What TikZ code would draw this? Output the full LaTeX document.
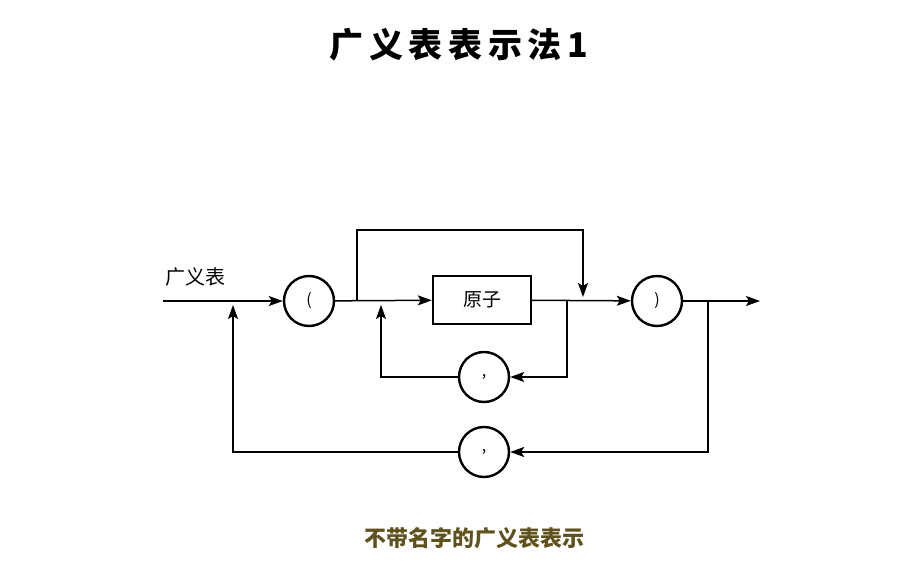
\documentclass[tikz,border=0pt]{standalone}
\usepackage{fontspec}
\newfontfamily\cjk{Noto Sans CJK SC}
\usetikzlibrary{arrows.meta}
\definecolor{capc}{RGB}{95,82,30}
\begin{document}
\begin{tikzpicture}[x=1pt,y=-1pt,
  circ/.style={circle,draw,line width=2.4pt,minimum size=50pt,inner sep=0pt,font=\cjk\fontsize{16}{16}\selectfont},
  box/.style={draw,line width=2.4pt,minimum width=98pt,minimum height=48pt,font=\cjk\fontsize{19}{19}\selectfont},
  arr/.style={line width=1.5pt,-{Stealth[length=14pt,width=10pt,inset=3pt]}},
  ln/.style={line width=1.5pt}]
\useasboundingbox (0,0) rectangle (916,569);
\node[font=\cjk\bfseries\fontsize{34}{34}\selectfont] (title) at (459,45) {广\,义\,表\,表\,示\,法\,1};
\node[font=\cjk\fontsize{20}{20}\selectfont] (lbl) at (195,277) {广义表};
\node[circ] (lp) at (309,301) {(};
\node[box] (atom) at (482,300) {原子};
\node[circ] (rp) at (657,301) {)};
\node[circ] (c1) at (484,377) {,};
\node[circ] (c2) at (484,452) {,};
\coordinate (in) at (163,301);
\coordinate (out) at (760,301);
\node[font=\cjk\bfseries\fontsize{22}{22}\selectfont,text=capc] (cap) at (474,538) {不带名字的广义表表示};
\draw[arr] (in) -- (lp);
\draw[arr] (lp) -- (atom);
\draw[arr] (atom) -- (rp);
\draw[arr] (rp) -- (out);
\draw[arr] (357,301) |- (583,230) -- (583,297);
\draw[arr] (567,301) |- (c1);
\draw[arr] (c1) -| (381,305);
\draw[arr] (708,301) |- (c2);
\draw[arr] (c2) -| (233,305);
\end{tikzpicture}
\end{document}
